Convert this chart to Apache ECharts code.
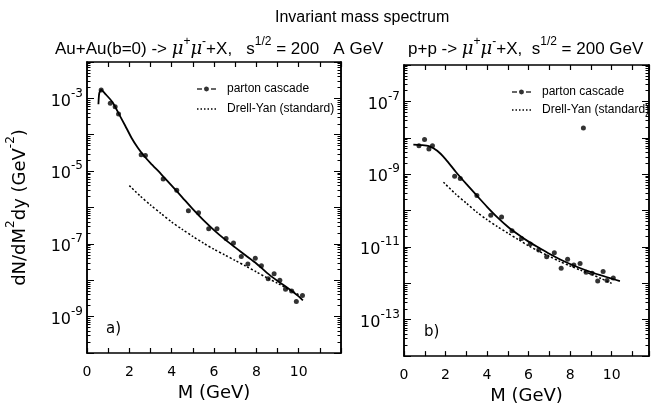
<!DOCTYPE html>
<html><head><meta charset="utf-8">
<script src="https://cdn.jsdelivr.net/npm/echarts@6/dist/echarts.min.js"></script>
<style>html,body{margin:0;padding:0;background:#fff}#c{width:652px;height:410px}</style>
</head><body><div id="c"></div>
<script>
// ---------- Panel a) Au+Au ----------
const aPtsM = [0.67,1.10,1.33,1.49,2.56,2.76,3.60,4.24,4.79,5.27,5.75,6.14,6.57,6.92,7.29,7.60,7.95,8.24,8.56,8.84,9.11,9.38,9.67,9.89,10.18];
const aPtsV = [1.7e-3,7.4e-4,5.9e-4,3.7e-4,2.8e-5,2.7e-5,6.1e-6,3.0e-6,8.1e-7,7.2e-7,2.6e-7,2.6e-7,1.4e-7,1.05e-7,4.5e-8,2.8e-8,4.0e-8,2.5e-8,1.1e-8,1.5e-8,1.0e-8,5.7e-9,5.1e-9,2.6e-9,3.8e-9];
const aFitM = [0.54,0.58,0.67,0.9,1.2,1.5,1.8,2.1,2.4,2.7,3.0,3.5,4.0,4.5,5.0,5.5,6.0,6.5,7.0,7.5,8.0,8.5,9.0,9.5,10.0,10.2];
const aFitV = [6.9e-4,1.4e-3,1.7e-3,1.26e-3,7.9e-4,3.8e-4,1.8e-4,8.3e-5,4.4e-5,2.6e-5,1.66e-5,8.3e-6,4.0e-6,1.9e-6,9.0e-7,4.5e-7,2.4e-7,1.35e-7,8.0e-8,4.8e-8,2.9e-8,1.6e-8,9.6e-9,6.0e-9,3.6e-9,2.8e-9];
const aDyM = [2.0,2.5,3.0,3.5,4.0,4.5,5.0,5.5,6.0,6.5,7.0,7.5,8.0,8.5,9.0,9.5,10.0];
const aDyV = [4.0e-6,2.1e-6,1.17e-6,6.8e-7,4.0e-7,2.5e-7,1.6e-7,1.05e-7,7.1e-8,5.0e-8,3.5e-8,2.45e-8,1.7e-8,1.17e-8,8.3e-9,5.75e-9,4.0e-9];
// ---------- Panel b) p+p ----------
const bPtsM = [0.72,0.99,1.20,1.37,2.44,2.71,3.51,4.18,4.70,5.20,5.66,6.08,6.49,6.87,7.24,7.57,7.88,8.18,8.48,8.64,8.77,9.06,9.33,9.59,9.78,10.08];
const bPtsV = [6.0e-9,8.9e-9,4.9e-9,6.0e-9,8.7e-10,7.6e-10,2.6e-10,7.4e-11,6.7e-11,2.8e-11,1.7e-11,1.2e-11,8.3e-12,5.4e-12,6.9e-12,2.6e-12,4.6e-12,3.2e-12,3.5e-12,1.85e-8,2.0e-12,1.9e-12,1.15e-12,2.1e-12,1.2e-12,1.4e-12];
const bFitM = [0.45,0.8,1.2,1.6,2.0,2.5,3.0,3.5,4.0,4.5,5.0,5.5,6.0,6.5,7.0,7.5,8.0,8.5,9.0,9.5,10.0,10.4];
const bFitV = [6.5e-9,6.3e-9,5.9e-9,4.4e-9,2.6e-9,1.15e-9,5.4e-10,2.6e-10,1.27e-10,6.5e-11,3.6e-11,2.2e-11,1.4e-11,9.5e-12,6.5e-12,4.6e-12,3.4e-12,2.6e-12,2.05e-12,1.65e-12,1.35e-12,1.15e-12];
const bDyM = [1.9,2.5,3.0,3.5,4.0,4.5,5.0,5.5,6.0,6.5,7.0,7.5,8.0,8.5,9.0,9.5,10.0];
const bDyV = [6.0e-10,2.8e-10,1.6e-10,9.1e-11,5.6e-11,3.6e-11,2.4e-11,1.6e-11,1.07e-11,7.6e-12,5.5e-12,4.0e-12,3.0e-12,2.3e-12,1.8e-12,1.35e-12,1.0e-12];
// ---------- tick labels ----------
const xTickLabels = [0,2,4,6,8,10];
const aYLabelExp = [-9,-7,-5,-3];
const bYLabelExp = [-13,-11,-9,-7];
const aDecades = [-10,-9,-8,-7,-6,-5,-4,-3,-2];
const bDecades = [-14,-13,-12,-11,-10,-9,-8,-7,-6];

const FONT = 'DejaVu Sans';
const LFONT = 'Liberation Sans';
const zip = (xs, ys) => xs.map((x, i) => [x, ys[i]]);
const decVals = d => d.map(e => Math.pow(10, e));
const minorVals = d => { const r = []; d.slice(0, -1).forEach(e => { for (let k = 2; k <= 9; k++) r.push(k * Math.pow(10, e)); }); return r; };

function xAx(grid, pos, max, labels) {
  return {
    type: 'value', gridIndex: grid, position: pos, min: 0, max: max, interval: 1,
    axisLine: { show: true, onZero: false, lineStyle: { color: '#000', width: 1.5 } },
    axisTick: { show: true, inside: true, length: 5, lineStyle: { color: '#000', width: 1.2 } },
    axisLabel: labels ? {
      show: true, margin: 12, color: '#000', fontSize: 14, fontFamily: FONT,
      formatter: v => xTickLabels.indexOf(v) >= 0 ? String(v) : ''
    } : { show: false },
    splitLine: { show: false },
    name: labels ? 'M (GeV)' : '', nameLocation: 'middle', nameGap: 24,
    nameTextStyle: { fontSize: 18, fontFamily: FONT, color: '#000' }
  };
}
function yAx(grid, pos, min, max, tickVals, len, labelExps, withName) {
  const o = {
    type: 'log', logBase: 10, gridIndex: grid, position: pos, min: min, max: max,
    axisLine: { show: true, lineStyle: { color: '#000', width: 1.5 } },
    axisTick: { show: true, inside: true, length: len, customValues: tickVals, lineStyle: { color: '#000', width: 1 } },
    splitLine: { show: false },
    axisLabel: { show: false }
  };
  if (labelExps) {
    o.axisLabel = {
      show: true, margin: 4, customValues: labelExps.map(e => Math.pow(10, e)),
      formatter: v => '{b|10}{e|' + Math.round(Math.log10(v)) + '}',
      rich: {
        b: { fontSize: 16, fontFamily: FONT, color: '#000', lineHeight: 22, verticalAlign: 'bottom' },
        e: { fontSize: 12, fontFamily: FONT, color: '#000', lineHeight: 22, verticalAlign: 'top' }
      }
    };
  }
  if (withName) {
    o.name = '{n|dN/dM}{s|2}{n|dy (GeV}{s|-2}{n|)}';
    o.nameLocation = 'middle'; o.nameRotate = 90; o.nameGap = 58;
    o.nameTextStyle = { rich: {
      n: { fontSize: 18, fontFamily: FONT, color: '#000', lineHeight: 24, verticalAlign: 'bottom' },
      s: { fontSize: 12, fontFamily: FONT, color: '#000', lineHeight: 24, verticalAlign: 'top' }
    } };
  }
  return o;
}

// legend icons (25 x 7 box; blank tail widens the gap before the text)
const cascadeIcon = 'path://M0,0L0.01,0Z M25,7L25.01,7Z M0,2.7L5,2.7L5,4.3L0,4.3Z M14,2.7L19,2.7L19,4.3L14,4.3Z M7,3.5A2.5,2.5,0,1,1,12,3.5A2.5,2.5,0,1,1,7,3.5Z';
const dottedIcon = 'path://M0,0L0.01,0Z M25,7L25.01,7Z M0,2.8h1.5v1.5h-1.5Z M3.5,2.8h1.5v1.5h-1.5Z M7,2.8h1.5v1.5h-1.5Z M10.5,2.8h1.5v1.5h-1.5Z M14,2.8h1.5v1.5h-1.5Z M17.5,2.8h1.5v1.5h-1.5Z';
const supRich = {
  t: { fontSize: 17, fontFamily: LFONT, fontWeight: 'normal', color: '#000', lineHeight: 22, verticalAlign: 'bottom' },
  m: { fontSize: 18, fontFamily: 'DejaVu Serif', fontStyle: 'italic', fontWeight: 'normal', color: '#000', lineHeight: 22, verticalAlign: 'bottom' },
  p: { fontSize: 12, fontFamily: LFONT, fontWeight: 'normal', color: '#000', lineHeight: 22, verticalAlign: 'top' }
};
const legendText = { fontSize: 12, fontFamily: LFONT, color: '#000', lineHeight: 14 };

const chart = echarts.init(document.getElementById('c'), null, { renderer: 'canvas' });
chart.setOption({
  backgroundColor: '#fff',
  animation: false,
  title: [
    { text: 'Invariant mass spectrum', left: 270, top: 5, textStyle: { fontSize: 16, fontWeight: 'normal', fontFamily: LFONT, color: '#000' } },
    { text: '{t|Au+Au(b=0) -> }{m|μ}{p|+}{m|μ}{p|-}{t|+X,   s}{p|1/2}{t| = 200   A GeV}', left: 50, top: 31, textStyle: { fontWeight: 'normal', rich: supRich } },
    { text: '{t|p+p -> }{m|μ}{p|+}{m|μ}{p|-}{t|+X,  s}{p|1/2}{t| = 200 GeV}', left: 403, top: 31, textStyle: { fontWeight: 'normal', rich: supRich } }
  ],
  grid: [
    { left: 87, top: 62, width: 254, height: 291 },
    { left: 404, top: 65, width: 247, height: 292 }
  ],
  legend: [
    { left: 192, top: 77, orient: 'vertical', itemWidth: 25, itemHeight: 7, itemGap: 6,
      textStyle: legendText,
      data: [{ name: 'parton cascade', icon: cascadeIcon }, { name: 'Drell-Yan (standard)', icon: dottedIcon }] },
    { left: 507, top: 80, orient: 'vertical', itemWidth: 25, itemHeight: 7, itemGap: 4,
      textStyle: legendText,
      data: [{ name: 'parton cascade', icon: cascadeIcon }, { name: 'Drell-Yan (standard)', icon: dottedIcon }] }
  ],
  xAxis: [
    xAx(0, 'bottom', 12, true), xAx(0, 'top', 12, false),
    xAx(1, 'bottom', 11.8, true), xAx(1, 'top', 11.8, false)
  ],
  yAxis: [
    yAx(0, 'left', 1e-10, 1e-2, decVals(aDecades), 7, aYLabelExp, true),
    yAx(0, 'left', 1e-10, 1e-2, minorVals(aDecades), 3.5, null, false),
    yAx(0, 'right', 1e-10, 1e-2, decVals(aDecades), 7, null, false),
    yAx(0, 'right', 1e-10, 1e-2, minorVals(aDecades), 3.5, null, false),
    yAx(1, 'left', 1e-14, 1e-6, decVals(bDecades), 7, bYLabelExp, false),
    yAx(1, 'left', 1e-14, 1e-6, minorVals(bDecades), 3.5, null, false),
    yAx(1, 'right', 1e-14, 1e-6, decVals(bDecades), 7, null, false),
    yAx(1, 'right', 1e-14, 1e-6, minorVals(bDecades), 3.5, null, false)
  ],
  graphic: [
    { type: 'text', left: 106, top: 322, style: { text: 'a)', fontSize: 15, fontFamily: FONT, fill: '#000' } },
    { type: 'text', left: 424, top: 325, style: { text: 'b)', fontSize: 15, fontFamily: FONT, fill: '#000' } }
  ],
  series: [
    { name: 'parton cascade', type: 'scatter', xAxisIndex: 0, yAxisIndex: 0, data: zip(aPtsM, aPtsV), symbolSize: 5, itemStyle: { color: '#000' } },
    { name: 'fit a', type: 'line', xAxisIndex: 0, yAxisIndex: 0, data: zip(aFitM, aFitV), symbol: 'none', smooth: 0.25, lineStyle: { color: '#000', width: 1.8 }, itemStyle: { color: '#000' } },
    { name: 'Drell-Yan (standard)', type: 'line', xAxisIndex: 0, yAxisIndex: 0, data: zip(aDyM, aDyV), symbol: 'none', smooth: 0.25, lineStyle: { color: '#000', width: 1.5, type: [2, 2] }, itemStyle: { color: '#000' } },
    { name: 'parton cascade', type: 'scatter', xAxisIndex: 2, yAxisIndex: 4, data: zip(bPtsM, bPtsV), symbolSize: 5, itemStyle: { color: '#000' } },
    { name: 'fit b', type: 'line', xAxisIndex: 2, yAxisIndex: 4, data: zip(bFitM, bFitV), symbol: 'none', smooth: 0.25, lineStyle: { color: '#000', width: 1.8 }, itemStyle: { color: '#000' } },
    { name: 'Drell-Yan (standard)', type: 'line', xAxisIndex: 2, yAxisIndex: 4, data: zip(bDyM, bDyV), symbol: 'none', smooth: 0.25, lineStyle: { color: '#000', width: 1.5, type: [2, 2] }, itemStyle: { color: '#000' } }
  ]
});
</script></body></html>
